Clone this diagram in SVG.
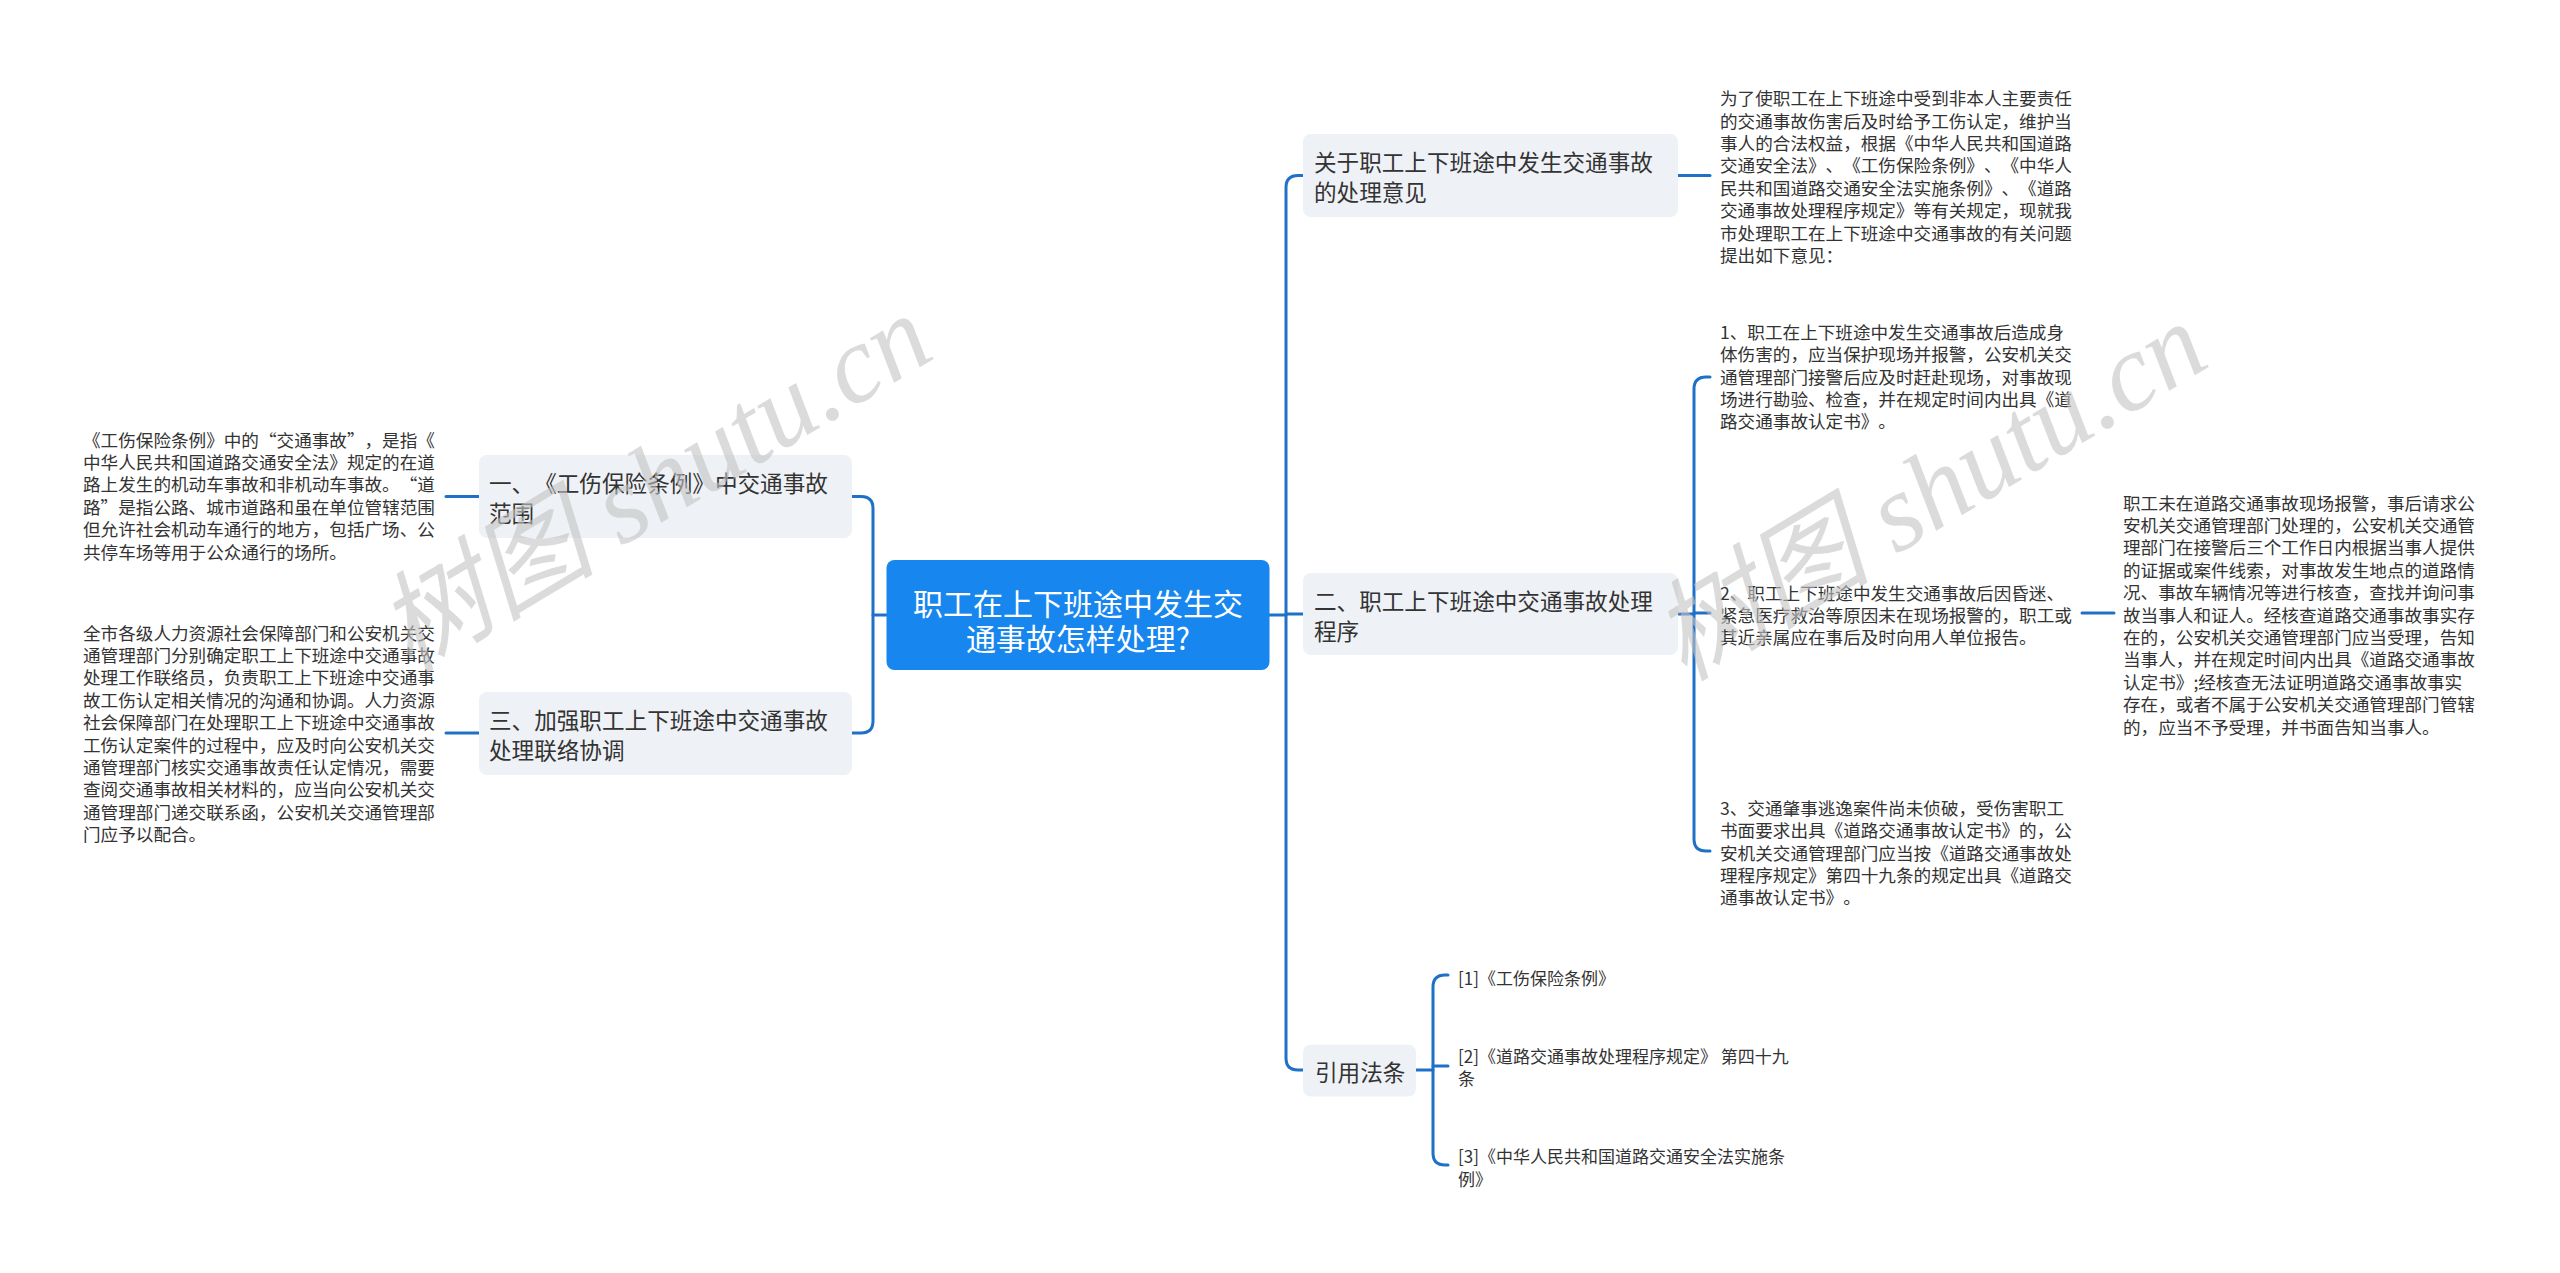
<svg xmlns="http://www.w3.org/2000/svg" width="2560" height="1273" viewBox="0 0 2560 1273">
<style>
text{text-spacing-trim:space-all}
.wm{font-family:"Liberation Serif","Noto Sans CJK SC",serif;font-style:italic;font-size:110px;fill:#c4c4c4;opacity:0.6}
.node{fill:#eef1f5}
.nt{font-family:"Noto Sans CJK SC","Noto Sans",sans-serif;font-size:22.6px;fill:#333333;dominant-baseline:central}
.dt{font-family:"Noto Sans CJK SC","Noto Sans",sans-serif;font-size:17.6px;fill:#333333;dominant-baseline:central}
.ct{font-family:"Noto Sans CJK SC","Noto Sans",sans-serif;font-size:17px;fill:#333333;dominant-baseline:central}
.rt{font-family:"Noto Sans CJK SC","Noto Sans",sans-serif;font-size:30px;fill:#ffffff;dominant-baseline:central;text-anchor:middle}
.conn path{fill:none;stroke:#1f71c8;stroke-width:3;stroke-linecap:round}
</style>
<rect width="2560" height="1273" fill="#ffffff"/>
<g id="connectors" class="conn">
<path d="M886,615 H873"/>
<path d="M852,496.5 H861 Q873,496.5 873,508.5 V721 Q873,733 861,733 H852"/>
<path d="M446,496.5 H479"/>
<path d="M446,733 H479"/>
<path d="M1269,615 H1286"/>
<path d="M1303,175.5 H1298 Q1286,175.5 1286,187.5 V1058 Q1286,1070 1298,1070 H1303"/>
<path d="M1286,614 H1303"/>
<path d="M1678,175.5 H1710"/>
<path d="M1678,614 H1694"/>
<path d="M1710,377 H1706 Q1694,377 1694,389 V839 Q1694,851 1706,851 H1710"/>
<path d="M1694,613 H1710"/>
<path d="M2082,613 H2114"/>
<path d="M1416,1070 H1433"/>
<path d="M1448,975 H1445 Q1433,975 1433,987 V1153 Q1433,1165 1445,1165 H1448"/>
<path d="M1433,1066 H1448"/>
</g>
<g id="root">
<rect x="886.5" y="560" width="383" height="110" rx="8" fill="#1786ee"/>
<text class="rt" x="1078" y="601.5">职工在上下班途中发生交</text>
<text class="rt" x="1078" y="636.5">通事故怎样处理?</text>
</g>
<g id="n-left1">
<rect class="node" x="479" y="455" width="373" height="83" rx="8"/>
<text class="nt" x="489" y="482">一、《工伤保险条例》中交通事故</text>
<text class="nt" x="489" y="512">范围</text>
</g>
<g id="t-left1">
<text class="dt" x="83" y="439">《工伤保险条例》中的“交通事故”，是指《</text>
<text class="dt" x="83" y="461.4">中华人民共和国道路交通安全法》规定的在道</text>
<text class="dt" x="83" y="483.8">路上发生的机动车事故和非机动车事故。“道</text>
<text class="dt" x="83" y="506.2">路”是指公路、城市道路和虽在单位管辖范围</text>
<text class="dt" x="83" y="528.6">但允许社会机动车通行的地方，包括广场、公</text>
<text class="dt" x="83" y="551">共停车场等用于公众通行的场所。</text>
</g>
<g id="n-left2">
<rect class="node" x="479" y="692" width="373" height="83" rx="8"/>
<text class="nt" x="489" y="719">三、加强职工上下班途中交通事故</text>
<text class="nt" x="489" y="749">处理联络协调</text>
</g>
<g id="t-left2">
<text class="dt" x="83" y="632">全市各级人力资源社会保障部门和公安机关交</text>
<text class="dt" x="83" y="654.4">通管理部门分别确定职工上下班途中交通事故</text>
<text class="dt" x="83" y="676.8">处理工作联络员，负责职工上下班途中交通事</text>
<text class="dt" x="83" y="699.2">故工伤认定相关情况的沟通和协调。人力资源</text>
<text class="dt" x="83" y="721.6">社会保障部门在处理职工上下班途中交通事故</text>
<text class="dt" x="83" y="744">工伤认定案件的过程中，应及时向公安机关交</text>
<text class="dt" x="83" y="766.4">通管理部门核实交通事故责任认定情况，需要</text>
<text class="dt" x="83" y="788.8">查阅交通事故相关材料的，应当向公安机关交</text>
<text class="dt" x="83" y="811.2">通管理部门递交联系函，公安机关交通管理部</text>
<text class="dt" x="83" y="833.6">门应予以配合。</text>
</g>
<g id="n-right1">
<rect class="node" x="1303" y="134" width="375" height="83" rx="8"/>
<text class="nt" x="1314" y="161">关于职工上下班途中发生交通事故</text>
<text class="nt" x="1314" y="191">的处理意见</text>
</g>
<g id="t-right1">
<text class="dt" x="1720" y="97.6">为了使职工在上下班途中受到非本人主要责任</text>
<text class="dt" x="1720" y="120">的交通事故伤害后及时给予工伤认定，维护当</text>
<text class="dt" x="1720" y="142.4">事人的合法权益，根据《中华人民共和国道路</text>
<text class="dt" x="1720" y="164.8">交通安全法》、《工伤保险条例》、《中华人</text>
<text class="dt" x="1720" y="187.2">民共和国道路交通安全法实施条例》、《道路</text>
<text class="dt" x="1720" y="209.6">交通事故处理程序规定》等有关规定，现就我</text>
<text class="dt" x="1720" y="232">市处理职工在上下班途中交通事故的有关问题</text>
<text class="dt" x="1720" y="254.4">提出如下意见：</text>
</g>
<g id="n-right2">
<rect class="node" x="1303" y="573" width="375" height="82" rx="8"/>
<text class="nt" x="1314" y="600">二、职工上下班途中交通事故处理</text>
<text class="nt" x="1314" y="630">程序</text>
</g>
<g id="t-step1">
<text class="dt" x="1720" y="331.2">1、职工在上下班途中发生交通事故后造成身</text>
<text class="dt" x="1720" y="353.6">体伤害的，应当保护现场并报警，公安机关交</text>
<text class="dt" x="1720" y="376">通管理部门接警后应及时赶赴现场，对事故现</text>
<text class="dt" x="1720" y="398.4">场进行勘验、检查，并在规定时间内出具《道</text>
<text class="dt" x="1720" y="420.8">路交通事故认定书》。</text>
</g>
<g id="t-step2">
<text class="dt" x="1720" y="592">2、职工上下班途中发生交通事故后因昏迷、</text>
<text class="dt" x="1720" y="614.4">紧急医疗救治等原因未在现场报警的，职工或</text>
<text class="dt" x="1720" y="636.8">其近亲属应在事后及时向用人单位报告。</text>
</g>
<g id="t-step2-detail">
<text class="dt" x="2123" y="502">职工未在道路交通事故现场报警，事后请求公</text>
<text class="dt" x="2123" y="524.4">安机关交通管理部门处理的，公安机关交通管</text>
<text class="dt" x="2123" y="546.8">理部门在接警后三个工作日内根据当事人提供</text>
<text class="dt" x="2123" y="569.2">的证据或案件线索，对事故发生地点的道路情</text>
<text class="dt" x="2123" y="591.6">况、事故车辆情况等进行核查，查找并询问事</text>
<text class="dt" x="2123" y="614">故当事人和证人。经核查道路交通事故事实存</text>
<text class="dt" x="2123" y="636.4">在的，公安机关交通管理部门应当受理，告知</text>
<text class="dt" x="2123" y="658.8">当事人，并在规定时间内出具《道路交通事故</text>
<text class="dt" x="2123" y="681.2">认定书》;经核查无法证明道路交通事故事实</text>
<text class="dt" x="2123" y="703.6">存在，或者不属于公安机关交通管理部门管辖</text>
<text class="dt" x="2123" y="726">的，应当不予受理，并书面告知当事人。</text>
</g>
<g id="t-step3">
<text class="dt" x="1720" y="807.2">3、交通肇事逃逸案件尚未侦破，受伤害职工</text>
<text class="dt" x="1720" y="829.6">书面要求出具《道路交通事故认定书》的，公</text>
<text class="dt" x="1720" y="852">安机关交通管理部门应当按《道路交通事故处</text>
<text class="dt" x="1720" y="874.4">理程序规定》第四十九条的规定出具《道路交</text>
<text class="dt" x="1720" y="896.8">通事故认定书》。</text>
</g>
<g id="n-right3">
<rect class="node" x="1303" y="1044.5" width="113" height="52" rx="8"/>
<text class="nt" x="1315" y="1071">引用法条</text>
</g>
<g id="c-law1">
<text class="ct" x="1458" y="977">[1]《工伤保险条例》</text>
</g>
<g id="c-law2">
<text class="ct" x="1458" y="1055">[2]《道路交通事故处理程序规定》 第四十九</text>
<text class="ct" x="1458" y="1077">条</text>
</g>
<g id="c-law3">
<text class="ct" x="1458" y="1155">[3]《中华人民共和国道路交通安全法实施条</text>
<text class="ct" x="1458" y="1178">例》</text>
</g>
<g id="watermarks">
<text class="wm" x="657" y="520" text-anchor="middle" transform="rotate(-31 657 488)">树图 shutu.cn</text>
<text class="wm" x="1932" y="528" text-anchor="middle" transform="rotate(-31 1932 496)">树图 shutu.cn</text>
</g>
</svg>
